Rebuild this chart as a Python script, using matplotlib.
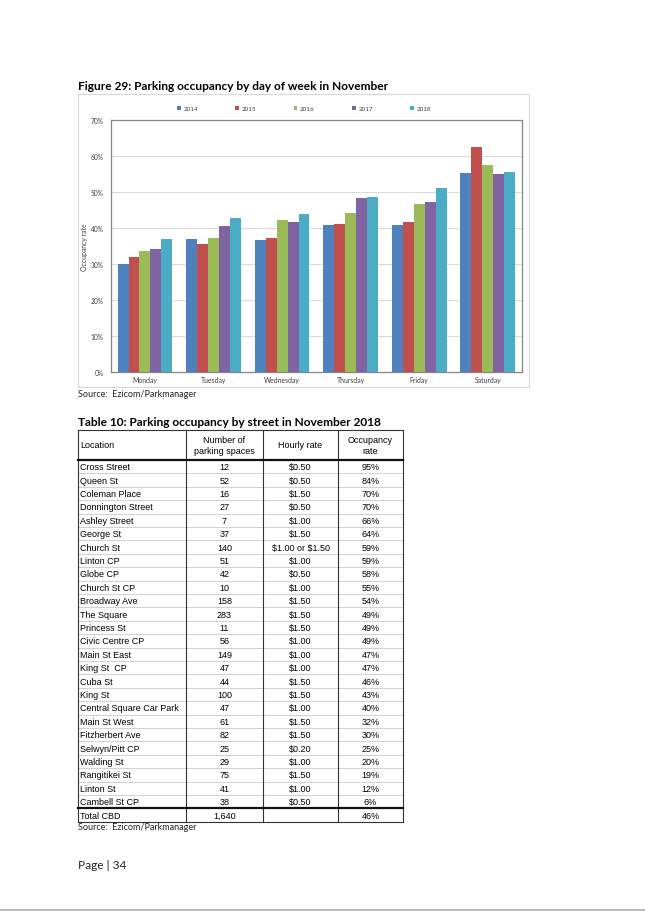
import matplotlib
matplotlib.use('Agg')
import matplotlib.pyplot as plt
import numpy as np
from matplotlib.patches import Rectangle

# ---------------- data ----------------
days = ['Monday', 'Tuesday', 'Wednesday', 'Thursday', 'Friday', 'Saturday']
years = ['2014', '2015', '2016', '2017', '2018']
occ_2014 = [30.0, 36.8, 36.5, 40.8, 40.8, 55.2]
occ_2015 = [31.9, 35.4, 37.1, 41.1, 41.6, 62.4]
occ_2016 = [33.5, 37.3, 42.2, 44.2, 46.6, 57.6]
occ_2017 = [34.1, 40.6, 41.6, 48.4, 47.2, 55.1]
occ_2018 = [37.0, 42.7, 43.8, 48.6, 51.1, 55.4]
series = [occ_2014, occ_2015, occ_2016, occ_2017, occ_2018]
colors = ['#4F81BD', '#C0504D', '#9BBB59', '#8064A2', '#4BACC6']
yticks = [0, 10, 20, 30, 40, 50, 60, 70]

chart_title = 'Figure 29: Parking occupancy by day of week in November'
table_title = 'Table 10: Parking occupancy by street in November 2018'
source_text = 'Source:  Ezicom/Parkmanager'
page_text = 'Page | 34'

headers = ['Location', 'Number of\nparking spaces', 'Hourly rate', 'Occupancy\nrate']
locations = ['Cross Street', 'Queen St', 'Coleman Place', 'Donnington Street', 'Ashley Street',
             'George St', 'Church St', 'Linton CP', 'Globe CP', 'Church St CP', 'Broadway Ave',
             'The Square', 'Princess St', 'Civic Centre CP', 'Main St East', 'King St  CP',
             'Cuba St', 'King St', 'Central Square Car Park', 'Main St West', 'Fitzherbert Ave',
             'Selwyn/Pitt CP', 'Walding St', 'Rangitikei St', 'Linton St', 'Cambell St CP']
spaces = ['12', '52', '16', '27', '7', '37', '140', '51', '42', '10', '158', '283', '11', '56',
          '149', '47', '44', '100', '47', '61', '82', '25', '29', '75', '41', '38']
rates = ['$0.50', '$0.50', '$1.50', '$0.50', '$1.00', '$1.50', '$1.00 or $1.50', '$1.00', '$0.50',
         '$1.00', '$1.50', '$1.50', '$1.50', '$1.00', '$1.00', '$1.00', '$1.50', '$1.50', '$1.00',
         '$1.50', '$1.50', '$0.20', '$1.00', '$1.50', '$1.00', '$0.50']
occupancy = ['95%', '84%', '70%', '70%', '66%', '64%', '59%', '59%', '58%', '55%', '54%', '49%',
             '49%', '49%', '47%', '47%', '46%', '43%', '40%', '32%', '30%', '25%', '20%', '19%',
             '12%', '6%']
total_row = ['Total CBD', '1,640', '', '46%']

# ---------------- figure ----------------
W, H = 645, 912
fig = plt.figure(figsize=(W / 100, H / 100), dpi=100)
fig.patch.set_facecolor('white')
page = fig.add_axes([0, 0, 1, 1])
page.set_xlim(0, W)
page.set_ylim(H, 0)
page.axis('off')

fig.canvas.draw()
renderer = fig.canvas.get_renderer()


def text_width(s, size, family, weight='normal'):
    t = page.text(0, 0, s, fontsize=size, family=family, weight=weight, parse_math=False)
    w = t.get_window_extent(renderer=renderer).width
    t.remove()
    return w


def fit_size(s, target_px, family, weight='normal'):
    return 10 * target_px / text_width(s, 10, family, weight)


calibri_like = 'Lato'
arial_like = 'Liberation Sans'

# titles / captions
fs_title = fit_size(chart_title, 313, calibri_like, 'bold')
page.text(78, 87, chart_title, fontsize=fs_title, family=calibri_like, weight='bold', va='center')
fs_ttitle = fit_size(table_title, 304, calibri_like, 'bold')
page.text(78.5, 423, table_title, fontsize=fs_ttitle, family=calibri_like, weight='bold', va='center')
fs_src = fit_size(source_text, 118, calibri_like)
page.text(78, 395, source_text, fontsize=fs_src, family=calibri_like, va='center', color='#222222')
page.text(78, 828, source_text, fontsize=fs_src, family=calibri_like, va='center', color='#222222')
fs_page = fit_size(page_text, 48, calibri_like)
page.text(77.5, 866, page_text, fontsize=fs_page, family=calibri_like, va='center', color='#222222')

# bottom page edge line
page.plot([0, W], [911, 911], color='#BDBDBD', lw=1.5, solid_capstyle='butt')

# chart outer frame
page.add_patch(Rectangle((77.5, 94.5), 529 - 77.5, 388 - 94.5, fill=False,
                         edgecolor='#D9D9D9', lw=0.8))

# ---------------- chart ----------------
left, right, top, bottom = 110.7, 522, 121, 372.6
ax = fig.add_axes([left / W, 1 - bottom / H, (right - left) / W, (bottom - top) / H])
x = np.arange(len(days))
bw = 0.16
handles = []
for i, (vals, c) in enumerate(zip(series, colors)):
    b = ax.bar(x + (i - 2) * bw, vals, width=bw, color=c, zorder=3, linewidth=0)
    handles.append(b)
ax.set_xlim(-0.5, len(days) - 0.5)
ax.set_ylim(0, 70)
ax.set_yticks(yticks)
fs_tick = fit_size('50%', 13, calibri_like)
fs_cat = fit_size('Wednesday', 36, calibri_like)
fs_leg = fit_size('2014', 14.5, calibri_like)
fs_ylab = fit_size('Occupancy rate', 48, calibri_like)
ax.set_yticklabels([f'{v}%' for v in yticks], fontsize=fs_tick, family=calibri_like, color='#404040')
ax.set_xticks(x)
ax.set_xticklabels(days, fontsize=fs_cat, family=calibri_like, color='#404040')
ax.tick_params(axis='both', length=0)
ax.tick_params(axis='y', pad=5)
ax.tick_params(axis='x', pad=3)
ax.yaxis.grid(True, color='#D9D9D9', lw=0.7, zorder=0)
ax.set_axisbelow(True)
for sp in ax.spines.values():
    sp.set_color('#868686')
    sp.set_linewidth(0.9)
ax.set_ylabel('Occupancy rate', fontsize=fs_ylab, family=calibri_like, color='#404040')
ax.yaxis.set_label_coords((88 - left) / (right - left), 0.5)

# legend: column period ~58.3 px
fs_leg_px = fs_leg * 100 / 72
hl, htp = 0.6, 0.4
tw = text_width('2014', fs_leg, calibri_like)
colsp = (58.3 - tw - (hl + htp) * fs_leg_px) / fs_leg_px
leg = fig.legend(handles, years, loc='center', bbox_to_anchor=(304 / W, 1 - 109.7 / H),
                 ncol=5, frameon=False, handlelength=hl, handleheight=hl,
                 handletextpad=htp, columnspacing=colsp, borderpad=0, borderaxespad=0,
                 prop={'family': calibri_like, 'size': fs_leg})
for t in leg.get_texts():
    t.set_color('#404040')

# ---------------- table ----------------
tx0, tx1 = 78, 403
col_x = [78, 186, 263, 338, 403]
ty_top, ty_head = 431, 461
row_h = 13.4
n = len(locations)
ty_total = ty_head + n * row_h
ty_bot = ty_total + row_h

fs_tab = fit_size('Central Square Car Park', 99, arial_like)
kw = dict(fontsize=fs_tab, family=arial_like, va='center', parse_math=False)

# thin row separators
for k in range(1, n):
    yy = ty_head + k * row_h
    page.plot([tx0, tx1], [yy, yy], color='#BFBFBF', lw=0.5)
# vertical lines
for cx in col_x:
    page.plot([cx, cx], [ty_top, ty_bot], color='#333333', lw=0.8)
# horizontal borders
page.plot([tx0, tx1], [ty_top, ty_top], color='#333333', lw=0.8)
page.plot([tx0, tx1], [ty_head, ty_head], color='#111111', lw=1.6)
page.plot([tx0, tx1], [ty_total, ty_total], color='#111111', lw=1.6)
page.plot([tx0, tx1], [ty_bot, ty_bot], color='#333333', lw=0.8)

centers = [None] + [(col_x[j] + col_x[j + 1]) / 2 for j in range(1, 4)]
hy = (ty_top + ty_head) / 2
page.text(80, hy, headers[0], ha='left', **kw)
for j in range(1, 4):
    page.text(centers[j], hy, headers[j], ha='center', linespacing=1.15, **kw)

for k in range(n):
    yc = ty_head + (k + 0.5) * row_h
    page.text(80, yc, locations[k], ha='left', **kw)
    page.text(centers[1], yc, spaces[k], ha='center', **kw)
    page.text(centers[2], yc, rates[k], ha='center', **kw)
    page.text(centers[3], yc, occupancy[k], ha='center', **kw)

yc = ty_total + row_h / 2
page.text(80, yc, total_row[0], ha='left', **kw)
for j in range(1, 4):
    page.text(centers[j], yc, total_row[j], ha='center', **kw)

fig.savefig('out.png', dpi=100, facecolor='white')
